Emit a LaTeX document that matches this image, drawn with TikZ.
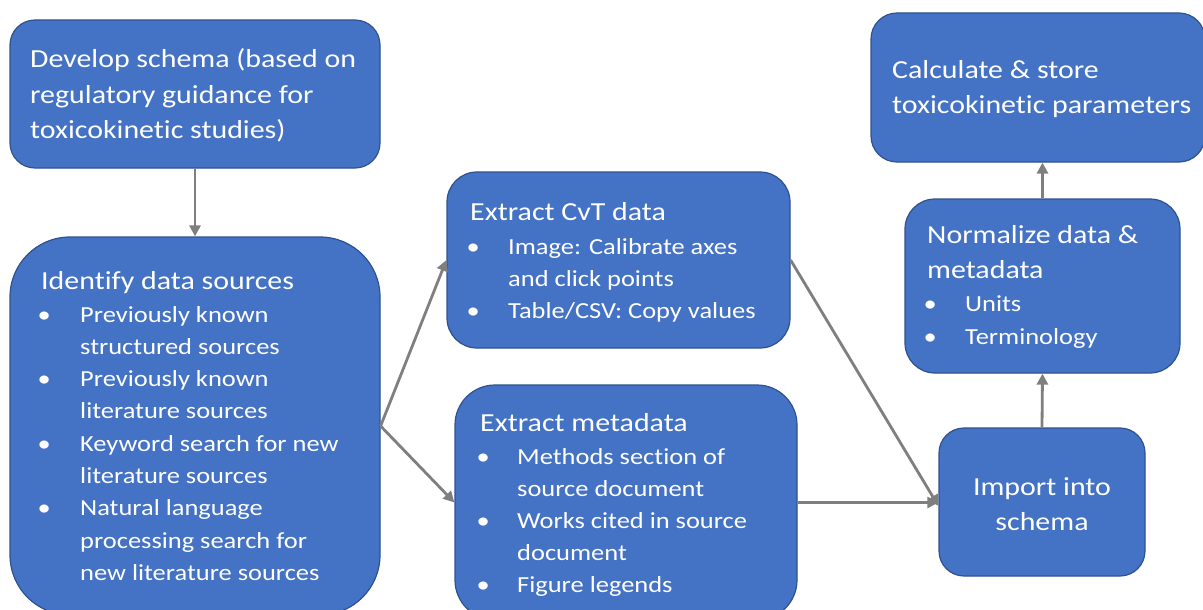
\documentclass[tikz,border=0pt]{standalone}
\usepackage{fontspec}
\setmainfont{Carlito}[FakeStretch=1.15,Ligatures=NoCommon]
\usetikzlibrary{arrows.meta}
\definecolor{boxfill}{HTML}{4472C4}
\definecolor{boxline}{HTML}{2F528F}
\definecolor{arrowgray}{HTML}{7F7F7F}
\newlength\bulind
\newcommand\bi{\par\makebox[\bulind][l]{•}}
\newcommand\bc{\\\hspace*{\bulind}}
\newcommand\titletext[2]{\parbox[t]{#1}{\fontsize{26}{35.5}\selectfont #2}}
\newcommand\bullettext[3]{\parbox[t]{400pt}{\fontsize{23}{#2}\selectfont\setlength\bulind{#1}#3}}
\begin{document}
\begin{tikzpicture}[x=1pt,y=-1pt,
  box/.style={draw=boxline, fill=boxfill, line width=1.2pt, inner sep=0pt, rectangle},
  txt/.style={text=white, inner sep=0pt, anchor=base west},
  flow/.style={draw=arrowgray, line width=2.8pt, -{Triangle[length=11pt,width=11pt]}}]
\useasboundingbox (0,0) rectangle (1203,610);
\begin{scope}
\clip (0,0) rectangle (1203,610);
% boxes
\node[box, minimum width=370pt, minimum height=148pt, rounded corners=25pt] (b1) at (195,94) {};
\node[box, minimum width=370pt, minimum height=378pt, rounded corners=60pt] (b2) at (195,426) {};
\node[box, minimum width=343pt, minimum height=176pt, rounded corners=30pt] (b3) at (618.5,260) {};
\node[box, minimum width=342pt, minimum height=235pt, rounded corners=40pt] (b4) at (626,502.5) {};
\node[box, minimum width=334pt, minimum height=149pt, rounded corners=26pt] (b5) at (1038,87.5) {};
\node[box, minimum width=275pt, minimum height=174pt, rounded corners=30pt] (b6) at (1042.5,286) {};
\node[box, minimum width=206pt, minimum height=148pt, rounded corners=25pt] (b7) at (1042,502) {};
\end{scope}
% texts
\node[txt] (t1) at (30,68) {\titletext{345pt}{Develop schema (based on\\regulatory guidance for\\toxicokinetic studies)}};
\node[txt] (t2a) at (41,289) {\titletext{330pt}{Identify data sources}};
\node[txt] (t2b) at (37.5,322) {\bullettext{42.5pt}{32.3}{\bi Previously known\bc structured sources\bi Previously known\bc literature sources\bi Keyword search for new\bc literature sources\bi Natural language\bc processing search for\bc new literature sources}};
\node[txt] (t3a) at (470,220) {\titletext{310pt}{Extract CvT data}};
\node[txt] (t3b) at (466.5,254) {\bullettext{41.5pt}{32.3}{\bi Image: Calibrate axes\bc and click points\bi Table/CSV: Copy values}};
\node[txt] (t4a) at (480,431) {\titletext{310pt}{Extract metadata}};
\node[txt] (t4b) at (476.5,464) {\bullettext{40.5pt}{32}{\bi Methods section of\bc source document\bi Works cited in source\bc document\bi Figure legends}};
\node[txt] (t5) at (892,78) {\titletext{310pt}{Calculate \& store\\toxicokinetic parameters}};
\node[txt] (t6a) at (927,243) {\titletext{250pt}{Normalize data \&\\metadata}};
\node[txt] (t6b) at (923.5,311) {\bullettext{41.5pt}{33}{\bi Units\bi Terminology}};
\node[txt, anchor=base] (t7) at (1042,495) {\parbox[t]{200pt}{\centering\fontsize{26}{35}\selectfont Import into\\schema}};
% connectors
\draw[flow] (b1.south) -- (b2.north);
\draw[flow] (b2.east) -- (b3.west);
\draw[flow] (b2.east) -- (b4.west);
\draw[flow] (b3.east) -- ([yshift=-4pt]b7.west);
\draw[flow] (b4.east) -- (b4.east -| b7.west);
\draw[flow] (b7.north) -- (b6.south);
\draw[flow] (b6.north) -- (b6.north |- b5.south);
\end{tikzpicture}
\end{document}
